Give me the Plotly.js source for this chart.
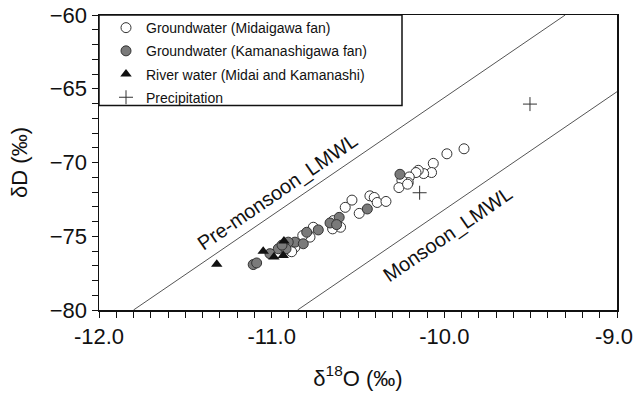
<!DOCTYPE html>
<html>
<head>
<meta charset="utf-8">
<script src="https://cdn.plot.ly/plotly-3.0.1.min.js"></script>
<style>html,body{margin:0;padding:0;background:#fff;}#chart{width:634px;height:397px;}</style>
</head>
<body>
<div id="chart"></div>
<script>
// Groundwater (Midaigawa fan) - open circles
var midaiX = [-9.886,-9.985,-10.064,-10.074,-10.120,-10.151,-10.164,-10.203,-10.209,-10.246,-10.263,-10.213,-10.431,-10.406,-10.389,-10.338,-10.493,-10.535,-10.574,-10.643,-10.647,-10.601,-10.759,-10.778,-10.820,-10.865,-10.904,-10.884];
var midaiY = [-69.07,-69.41,-70.06,-70.68,-70.75,-70.53,-70.68,-70.98,-71.36,-71.20,-71.70,-71.47,-72.26,-72.37,-72.71,-72.64,-73.45,-72.55,-73.04,-73.94,-74.50,-74.39,-74.39,-75.06,-74.95,-75.74,-75.62,-76.05];
// Groundwater (Kamanashigawa fan) - grey filled circles
var kamaX = [-10.257,-10.446,-10.609,-10.662,-10.624,-10.730,-10.797,-10.865,-10.904,-10.817,-10.962,-11.010,-11.107,-11.087,-10.917,-10.940];
var kamaY = [-70.80,-73.15,-73.72,-74.10,-74.21,-74.57,-74.73,-75.40,-75.40,-75.51,-75.85,-76.18,-76.92,-76.81,-75.85,-75.60];
// River water (Midai and Kamanashi) - triangles
var riverX = [-11.318,-11.049,-10.987,-10.933,-10.929];
var riverY = [-76.90,-76.01,-76.41,-76.30,-75.33];
// Precipitation - plus
var precX = [-9.504,-10.143];
var precY = [-66.04,-72.05];
// Local meteoric water lines (end points)
var preLmwlX = [-11.80,-9.30];
var preLmwlY = [-80,-60];
var monLmwlX = [-10.85,-9.0];
var monLmwlY = [-80,-65.2];

var xTicks = [-12,-11,-10,-9];
var xTickText = ['-12.0','-11.0','-10.0','-9.0\u00a0'];
var yTicks = [-80,-75,-70,-65,-60];

var fontFam = 'Liberation Sans, Arial, sans-serif';

var traces = [
  {x: preLmwlX, y: preLmwlY, mode:'lines', line:{color:'#555', width:1}, showlegend:false, hoverinfo:'skip'},
  {x: monLmwlX, y: monLmwlY, mode:'lines', line:{color:'#555', width:1}, showlegend:false, hoverinfo:'skip'},
  {x: midaiX, y: midaiY, mode:'markers', name:'Groundwater (Midaigawa fan)', legendgroup:'a',
   marker:{symbol:'circle', size:10, color:'#fff', line:{color:'#333', width:1}}},
  {x: kamaX, y: kamaY, mode:'markers', name:'Groundwater (Kamanashigawa fan)', legendgroup:'b',
   marker:{symbol:'circle', size:10, color:'#7a7a7a', line:{color:'#333', width:1}}},
  {x: riverX, y: riverY, mode:'markers', name:'River water (Midai and Kamanashi)', legendgroup:'c',
   marker:{symbol:'triangle-up', size:10, color:'#111', line:{color:'#111', width:0}}},
  {x: precX, y: precY, mode:'markers', name:'Precipitation', legendgroup:'d',
   marker:{symbol:'cross-thin-open', size:10, color:'#333', line:{color:'#333', width:1}}}
];

var layout = {
  width:634, height:397,
  margin:{l:99, r:17, t:13, b:87},
  paper_bgcolor:'#fff', plot_bgcolor:'#fff',
  font:{family:fontFam, color:'#111'},
  showlegend:true,
  legend:{x:(106-99)/518, y:1.01, xanchor:'left', yanchor:'top', bgcolor:'rgba(0,0,0,0)', borderwidth:0,
          font:{size:14, family:fontFam, color:'#111'}, traceorder:'grouped', tracegroupgap:2},
  xaxis:{range:[-12,-9], tickvals:xTicks, ticktext:xTickText, ticks:'outside', ticklen:6, tickwidth:1, tickcolor:'#111',
         showline:true, linecolor:'#111', linewidth:1.5, mirror:true, showgrid:false, zeroline:false,
         ticklabeloverflow:'allow',
         tickfont:{size:22, family:fontFam, color:'#111'},
         minor:{dtick:0.1, ticks:'outside', ticklen:6, tickwidth:1, tickcolor:'#111', showgrid:false},
         title:{text:'δ<sup>18</sup>O (‰)', font:{size:22, family:fontFam, color:'#111'}, standoff:22}},
  yaxis:{range:[-80,-60], tickvals:yTicks, ticks:'outside', ticklen:6, tickwidth:1, tickcolor:'#111',
         showline:true, linecolor:'#111', linewidth:1.5, mirror:true, showgrid:false, zeroline:false,
         tickfont:{size:22, family:fontFam, color:'#111'},
         minor:{dtick:1, ticks:'outside', ticklen:6, tickwidth:1, tickcolor:'#111', showgrid:false},
         title:{text:'δD (‰)', font:{size:22, family:fontFam, color:'#111'}, standoff:16}},
  shapes:[{type:'rect', xref:'paper', yref:'paper', x0:0, x1:(402-99)/518, y0:1, y1:1-(104-13)/297,
           line:{color:'#111', width:1.5}, fillcolor:'rgba(0,0,0,0)'}],
  annotations:[
    {x:-10.969, y:-72.0, xref:'x', yref:'y', text:'Pre-monsoon_LMWL', showarrow:false, textangle:-34.5,
     font:{size:20, family:fontFam, color:'#111'}},
    {x:-9.98, y:-74.85, xref:'x', yref:'y', text:'Monsoon_LMWL', showarrow:false, textangle:-34.5,
     font:{size:20, family:fontFam, color:'#111'}}
  ]
};

Plotly.newPlot('chart', traces, layout, {staticPlot:true, displayModeBar:false});
</script>
</body>
</html>
